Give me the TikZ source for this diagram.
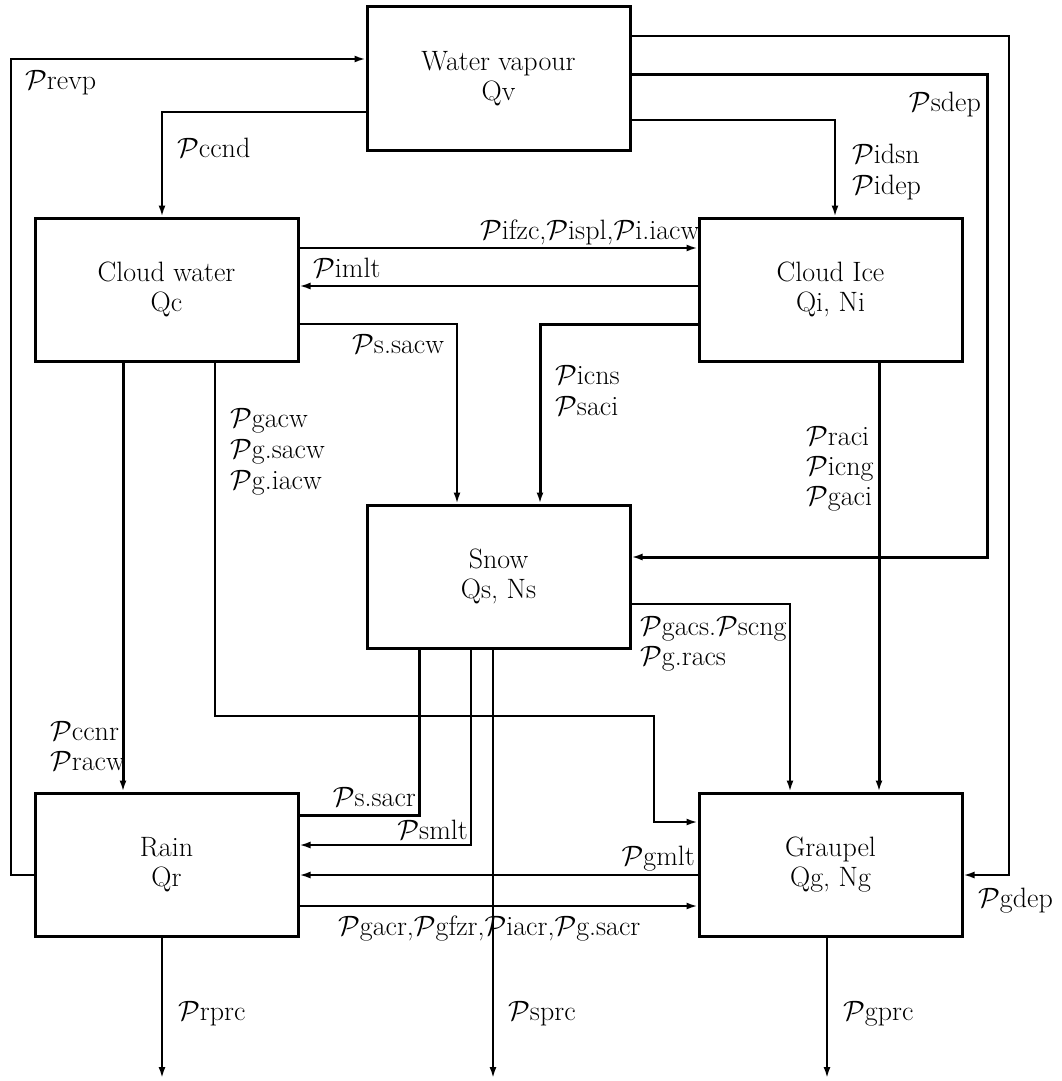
\documentclass[tikz,border=0pt]{standalone}
\usepackage{fix-cm}
\usepackage{fontspec}
\usetikzlibrary{arrows.meta}
\newcommand\fsz{\fontsize{28}{30}\selectfont}
\newcommand\PP{$\mathcal{P}$}
\tikzset{
  box/.style={draw, line width=3pt, minimum width=263pt, minimum height=143pt, align=center, inner sep=0pt, font=\fsz},
  lbl/.style={inner sep=0pt, font=\fsz},
  thinflow/.style={line width=2pt, -{Latex[length=11pt,width=7pt]}},
  thickflow/.style={line width=3pt, -{Latex[length=11pt,width=7pt]}},
  thickline/.style={line width=3pt},
}
\begin{document}
\begin{tikzpicture}[x=1pt,y=-1pt]
\useasboundingbox (0,0) rectangle (1061,1081);
% boxes
\node[box] (wv) at (498.5,78.5) {Water vapour\\Qv};
\node[box] (cw) at (166.5,289.5) {Cloud water\\Qc};
\node[box] (ci) at (830.5,289.5) {Cloud Ice\\Qi, Ni};
\node[box] (sn) at (498.5,576.5) {Snow\\Qs, Ns};
\node[box] (rn) at (166.5,864.5) {Rain\\Qr};
\node[box] (gr) at (830.5,864.5) {Graupel\\Qg, Ng};
\coordinate (rp) at (162,1078);
\coordinate (sp) at (493,1078);
\coordinate (gp) at (827,1078);
% connectors
\draw[thinflow] (rn.west |- 0,875) -- (11,875) -- (11,59) -- (wv.west |- 0,59);
\draw[thinflow] (wv.west |- 0,112) -| (cw.north -| 162,0);
\draw[thickflow] (wv.east |- 0,74) -- (987,74) -- (987,557) -- (sn.east |- 0,557);
\draw[thinflow] (wv.east |- 0,36) -- (1009,36) -- (1009,875) -- (gr.east |- 0,875);
\draw[thinflow] (wv.east |- 0,120) -| (ci.north -| 835,0);
\draw[thinflow] (cw.east |- 0,248) -- (ci.west |- 0,248);
\draw[thinflow] (ci.west |- 0,286) -- (cw.east |- 0,286);
\draw[thinflow] (cw.east |- 0,324) -| (sn.north -| 457,0);
\draw[thickflow] (ci.west |- 0,324) -| (sn.north -| 540,0);
\draw[thickflow] (cw.south -| 123,0) -- (rn.north -| 123,0);
\draw[thinflow] (cw.south -| 215,0) -- (215,716) -- (654,716) -- (654,822) -- (gr.west |- 0,822);
\draw[thickflow] (ci.south -| 879,0) -- (gr.north -| 879,0);
\draw[thinflow] (sn.east |- 0,604) -| (gr.north -| 790,0);
\draw[thickline] (sn.south -| 419,0) |- (rn.east |- 0,815);
\draw[thinflow] (sn.south -| 471,0) |- (rn.east |- 0,845);
\draw[thinflow] (sn.south -| 493,0) -- (sp);
\draw[thinflow] (gr.west |- 0,875) -- (rn.east |- 0,875);
\draw[thinflow] (rn.east |- 0,906) -- (gr.west |- 0,906);
\draw[thinflow] (rn.south -| 162,0) -- (rp);
\draw[thinflow] (gr.south -| 827,0) -- (gp);
% labels
\node[lbl, anchor=base west] (l1) at (25,89) {\PP revp};
\node[lbl, anchor=base west] (l2) at (177,157) {\PP ccnd};
\node[lbl, anchor=base east] (l3) at (981,111) {\PP sdep};
\node[lbl, anchor=base west] (l4a) at (852,163) {\PP idsn};
\node[lbl, anchor=base west] (l4b) at (852,194) {\PP idep};
\node[lbl, anchor=base west] (l5) at (480,239) {\PP ifzc,\PP ispl,\PP i.iacw};
\node[lbl, anchor=base west] (l6) at (313,277) {\PP imlt};
\node[lbl, anchor=base west] (l7) at (352,353) {\PP s.sacw};
\node[lbl, anchor=base west] (l8a) at (555,384) {\PP icns};
\node[lbl, anchor=base west] (l8b) at (555,415) {\PP saci};
\node[lbl, anchor=base west] (l9a) at (230,427) {\PP gacw};
\node[lbl, anchor=base west] (l9b) at (230,458) {\PP g.sacw};
\node[lbl, anchor=base west] (l9c) at (230,489) {\PP g.iacw};
\node[lbl, anchor=base west] (l10a) at (806,445) {\PP raci};
\node[lbl, anchor=base west] (l10b) at (806,475) {\PP icng};
\node[lbl, anchor=base west] (l10c) at (806,505) {\PP gaci};
\node[lbl, anchor=base west] (l11a) at (640,635) {\PP gacs.\PP scng};
\node[lbl, anchor=base west] (l11b) at (640,665) {\PP g.racs};
\node[lbl, anchor=base west] (l12a) at (50,740) {\PP ccnr};
\node[lbl, anchor=base west] (l12b) at (50,770) {\PP racw};
\node[lbl, anchor=base east] (l13) at (416,806) {\PP s.sacr};
\node[lbl, anchor=base east] (l14) at (468,839) {\PP smlt};
\node[lbl, anchor=base east] (l15) at (695,865) {\PP gmlt};
\node[lbl, anchor=base west] (l16) at (978,907) {\PP gdep};
\node[lbl, anchor=base west] (l17) at (338,935) {\PP gacr,\PP gfzr,\PP iacr,\PP g.sacr};
\node[lbl, anchor=base west] (l18) at (178,1020) {\PP rprc};
\node[lbl, anchor=base west] (l19) at (508,1020) {\PP sprc};
\node[lbl, anchor=base west] (l20) at (843,1020) {\PP gprc};
\end{tikzpicture}
\end{document}
